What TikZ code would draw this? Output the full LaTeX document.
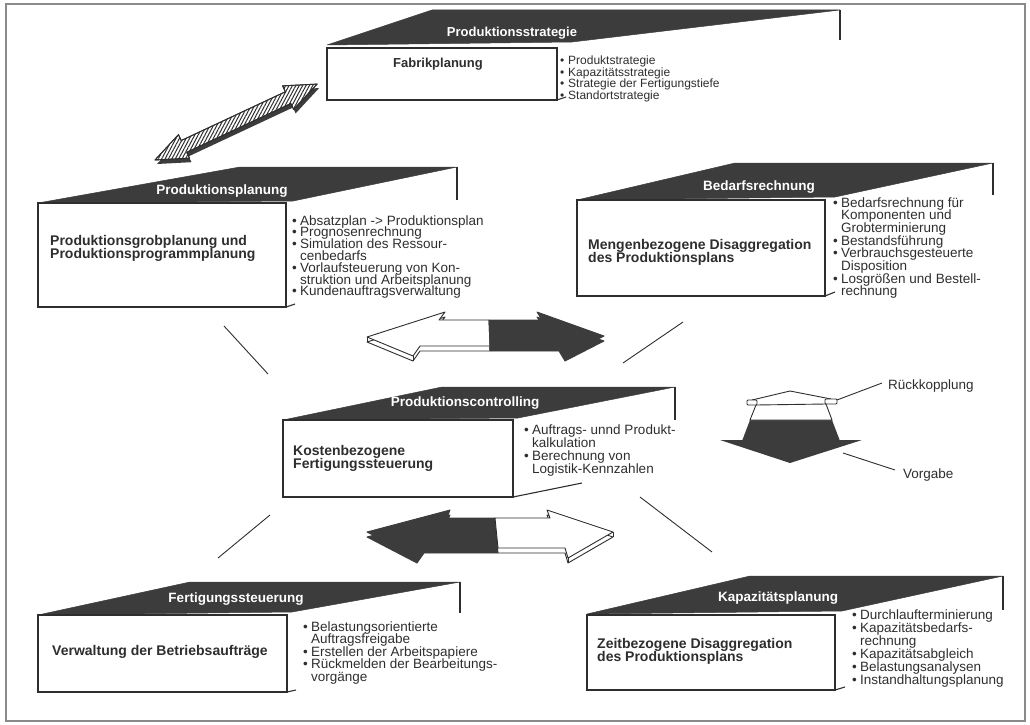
\documentclass[tikz,border=0pt]{standalone}
\usepackage{fontspec}
\setmainfont{Liberation Sans}
\usetikzlibrary{patterns.meta}
\definecolor{ink}{HTML}{2E2E2E}
\definecolor{dk}{HTML}{3C3C3C}
\definecolor{frm}{HTML}{8A8A8A}
\newcommand\bu{\makebox[8pt][l]{•}}
\newcommand\ci{\hspace*{8pt}}
\newcommand\txtlines[6]{%
  \foreach \t [count=\i] in {#6}{\node[#5] (#1\i) at (#2,{#3+(\i-1)*#4}) {\t};}}
\begin{document}
\begin{tikzpicture}[x=1pt,y=-1pt,
  front/.style={draw=ink,line width=1.2pt,fill=white},
  topf/.style={fill=dk,draw=dk,line width=0.5pt,line join=round},
  back/.style={draw=ink,line width=1.1pt},
  ttl/.style={text=white,font=\bfseries\fontsize{13.5}{14}\selectfont,inner sep=0pt},
  mtx/.style={text=ink,font=\bfseries\fontsize{14}{14}\selectfont,inner sep=0pt,anchor=base west},
  lst/.style={text=ink,font=\fontsize{13.5}{14}\selectfont,inner sep=0pt,anchor=base west},
  lsts/.style={lst,font=\fontsize{12}{12}\selectfont},
  conn/.style={draw=ink,line width=0.9pt},
  arrw/.style={fill=white,draw=ink,line width=0.9pt,line join=round},
  arrd/.style={fill=dk,draw=dk,line width=0.9pt,line join=round},
  lbl/.style={text=ink,font=\fontsize{13.5}{14}\selectfont,inner sep=0pt,anchor=west}]
\useasboundingbox (0,0) rectangle (1030,725);
\draw[frm,line width=1.8pt] (6,4) rectangle (1025,721);

% ---- Block A
\fill[topf] (327,45) -- (432,10) -- (840,10) -- (572,42) -- cycle;
\draw[back] (840,10) -- (840,40);
\draw[front] (327,48) rectangle (557,100);
\draw[back] (557,100) -- (566,97);
\node[ttl,font=\bfseries\fontsize{13}{14}\selectfont] (tA) at (512,33) {Produktionsstrategie};
\node[text=ink,font=\bfseries\fontsize{13}{14}\selectfont,inner sep=0pt] (mA) at (438,64) {Fabrikplanung};
\txtlines{A}{560}{65}{11.5}{lsts}{{\bu Produktstrategie},{\bu Kapazitätsstrategie},{\bu Strategie der Fertigungstiefe},{\bu Standortstrategie}}

% ---- Block B
\fill[topf] (38,203) -- (240,167) -- (457,167) -- (293,201) -- cycle;
\draw[back] (457,167) -- (457,200);
\draw[front] (38,203) rectangle (286,307);
\draw[back] (286,307) -- (295,304);
\node[ttl] (tB) at (222,191) {Produktionsplanung};
\node[mtx] (mB1) at (50,245) {Produktionsgrobplanung und};
\node[mtx] (mB2) at (50,258) {Produktionsprogrammplanung};
\txtlines{B}{292}{225}{11.8}{lst}{{\bu Absatzplan -> Produktionsplan},{\bu Prognosenrechnung},{\bu Simulation des Ressour-},{\ci cenbedarfs},{\bu Vorlaufsteuerung von Kon-},{\ci struktion und Arbeitsplanung},{\bu Kundenauftragsverwaltung}}

% ---- Block C
\fill[topf] (577,200) -- (735,163) -- (993,163) -- (835,197) -- cycle;
\draw[back] (993,163) -- (993,195);
\draw[front] (577,200) rectangle (825,296);
\draw[back] (825,296) -- (835,292);
\node[ttl] (tC) at (759,187) {Bedarfsrechnung};
\node[mtx] (mC1) at (588,249) {Mengenbezogene Disaggregation};
\node[mtx] (mC2) at (588,262) {des Produktionsplans};
\txtlines{C}{833}{207}{12.7}{lst}{{\bu Bedarfsrechnung für},{\ci Komponenten und},{\ci Grobterminierung},{\bu Bestandsführung},{\bu Verbrauchsgesteuerte},{\ci Disposition},{\bu Losgrößen und Bestell-},{\ci rechnung}}

% ---- Block D
\fill[topf] (283,420) -- (442,387) -- (675,387) -- (518,418) -- cycle;
\draw[back] (675,387) -- (675,420);
\draw[front] (283,420) rectangle (513,497);
\draw[back] (513,497) -- (582,483);
\node[ttl] (tD) at (465,403) {Produktionscontrolling};
\node[mtx] (mD1) at (293,455) {Kostenbezogene};
\node[mtx] (mD2) at (293,468) {Fertigungssteuerung};
\txtlines{D}{524}{434}{13}{lst}{{\bu Auftrags- unnd Produkt-},{\ci kalkulation},{\bu Berechnung von},{\ci Logistik-Kennzahlen}}

% ---- Block E
\fill[topf] (38,615) -- (190,582) -- (460,582) -- (292,612) -- cycle;
\draw[back] (460,582) -- (460,613);
\draw[front] (38,615) rectangle (287,692);
\draw[back] (287,692) -- (296,690);
\node[ttl] (tE) at (236,599) {Fertigungssteuerung};
\node[text=ink,font=\bfseries\fontsize{14}{14}\selectfont,inner sep=0pt] (mE) at (160,652) {Verwaltung der Betriebsaufträge};
\txtlines{E}{303}{631}{12.5}{lst}{{\bu Belastungsorientierte},{\ci Auftragsfreigabe},{\bu Erstellen der Arbeitspapiere},{\bu Rückmelden der Bearbeitungs-},{\ci vorgänge}}

% ---- Block F
\fill[topf] (587,614) -- (750,576) -- (1003,576) -- (842,611) -- cycle;
\draw[back] (1003,576) -- (1003,610);
\draw[front] (587,615) rectangle (835,690);
\draw[back] (835,690) -- (845,687);
\node[ttl] (tF) at (778,598) {Kapazitätsplanung};
\node[mtx] (mF1) at (597,648) {Zeitbezogene Disaggregation};
\node[mtx] (mF2) at (597,661) {des Produktionsplans};
\txtlines{F}{852}{619}{13}{lst}{{\bu Durchlaufterminierung},{\bu Kapazitätsbedarfs-},{\ci rechnung},{\bu Kapazitätsabgleich},{\bu Belastungsanalysen},{\bu Instandhaltungsplanung}}

% ---- connectors
\coordinate (c1a) at (224,326); \coordinate (c1b) at (268,374);
\coordinate (c2a) at (683,322); \coordinate (c2b) at (623,363);
\coordinate (c3a) at (270,515); \coordinate (c3b) at (218,558);
\coordinate (c4a) at (640,497); \coordinate (c4b) at (712,552);
\draw[conn] (c1a) -- (c1b);
\draw[conn] (c2a) -- (c2b);
\draw[conn] (c3a) -- (c3b);
\draw[conn] (c4a) -- (c4b);

% ---- upper double arrow (white left, dark right)
\begin{scope}[shift={(0,5)}]
  \filldraw[arrw] (489,320) -- (439,320) -- (445,312) -- (367,337) -- (413,356) -- (420,346) -- (490,346) -- cycle;
  \filldraw[arrd] (489,320) -- (542,320) -- (537,312) -- (604,336) -- (565,356) -- (559,346) -- (490,346) -- cycle;
\end{scope}
\draw[ink,line width=0.9pt] (367,337) -- (367,342) (413,356) -- (413,361);
\filldraw[arrw] (489,320) -- (439,320) -- (445,312) -- (367,337) -- (413,356) -- (420,346) -- (490,346) -- cycle;
\filldraw[arrd] (489,320) -- (542,320) -- (537,312) -- (604,336) -- (565,356) -- (559,346) -- (490,346) -- cycle;

% ---- lower double arrow (dark left, white right)
\begin{scope}[shift={(0,5)}]
  \filldraw[arrd] (495,518) -- (447,518) -- (450,510) -- (367,532) -- (417,558) -- (424,548) -- (498,548) -- cycle;
  \filldraw[arrw] (495,518) -- (550,518) -- (547,510) -- (613,532) -- (568,558) -- (565,548) -- (498,548) -- cycle;
\end{scope}
\draw[ink,line width=0.9pt] (613,532) -- (613,537) (568,558) -- (568,563);
\filldraw[arrd] (495,518) -- (447,518) -- (450,510) -- (367,532) -- (417,558) -- (424,548) -- (498,548) -- cycle;
\filldraw[arrw] (495,518) -- (550,518) -- (547,510) -- (613,532) -- (568,558) -- (565,548) -- (498,548) -- cycle;

% ---- hatched double arrow
\begin{scope}[shift={(157,164)},rotate=25.1]
  \fill[dk] (0,0) -- (32,-13) -- (32,-6.5) -- (147,-6.5) -- (147,-13) -- (179,0) -- (147,13) -- (147,6.5) -- (32,6.5) -- (32,13) -- cycle;
\end{scope}
\begin{scope}[shift={(155,160)},rotate=25.1]
  \filldraw[arrw] (0,0) -- (32,-13) -- (32,-6.5) -- (147,-6.5) -- (147,-13) -- (179,0) -- (147,13) -- (147,6.5) -- (32,6.5) -- (32,13) -- cycle;
  \fill[pattern={Lines[angle=62,distance=3pt,line width=1pt]},pattern color=ink] (0,0) -- (32,-13) -- (32,-6.5) -- (147,-6.5) -- (147,-13) -- (179,0) -- (147,13) -- (147,6.5) -- (32,6.5) -- (32,13) -- cycle;
  \draw[ink,line width=0.9pt,line join=round] (0,0) -- (32,-13) -- (32,-6.5) -- (147,-6.5) -- (147,-13) -- (179,0) -- (147,13) -- (147,6.5) -- (32,6.5) -- (32,13) -- cycle;
\end{scope}

% ---- Rueckkopplung / Vorgabe symbol
\fill[dk] (720,440) -- (862,440) -- (790,463) -- cycle;
\fill[dk] (750,420) -- (832,420) -- (840,441) -- (742,441) -- cycle;
\filldraw[fill=white,draw=ink,line width=0.9pt] (750,420) -- (756,405) -- (826,404) -- (832,420) -- cycle;
\draw[ink,line width=0.9pt] (752,400) -- (790,391) -- (831,399);
\draw[ink,line width=0.9pt,fill=white,rounded corners=1pt] (747,400) rectangle (757,405);
\draw[ink,line width=0.9pt,fill=white,rounded corners=1pt] (825,399) rectangle (837,404);
\node[lbl] (rk) at (888,386) {Rückkopplung};
\node[lbl] (vg) at (903,475) {Vorgabe};
\coordinate (rka) at (837,400); \coordinate (rkb) at (882,383);
\coordinate (vga) at (843,453); \coordinate (vgb) at (895,470);
\draw[conn] (rka) -- (rkb);
\draw[conn] (vga) -- (vgb);
\end{tikzpicture}
\end{document}
